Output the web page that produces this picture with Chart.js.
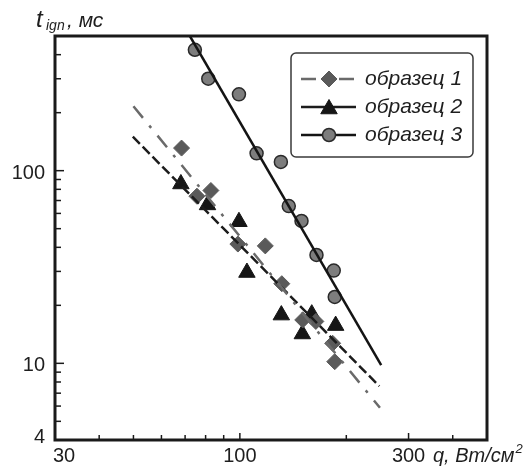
<!DOCTYPE html>
<html>
<head>
<meta charset="utf-8">
<script src="https://cdn.jsdelivr.net/npm/chart.js"></script>
<style>
  html, body { margin: 0; padding: 0; background: #fff; }
  canvas { display: block; }
</style>
</head>
<body>
<canvas id="chart" width="526" height="466"></canvas>
<script>
// axis ticks (log scales), labelled ones are major
const xTicks = [40, 50, 60, 70, 80, 90, 100, 200, 300, 400];
const xLabels = [30, 100, 300];
const yTicks = [5, 6, 7, 8, 9, 10, 20, 30, 40, 50, 60, 70, 80, 90, 100, 200, 300, 400];
const yLabels = [4, 10, 100];

const seriesNames = ["образец 1", "образец 2", "образец 3"];

// measured points: q (W/cm2) and t_ign (ms)
const sample1Q = [68.4, 75.6, 82.8, 98.7, 118, 131.4, 150.6, 164, 183, 185.5];
const sample1T = [131, 73.7, 78.9, 41.6, 40.7, 25.9, 16.8, 16.5, 12.7, 10.2];
const sample2Q = [68.1, 81, 99.4, 104.7, 131, 159.7, 150.2, 186.6];
const sample2T = [85.3, 66.4, 54.3, 29.6, 17.8, 18.0, 14.2, 15.7];
const sample3Q = [74.6, 81.4, 99.4, 111.5, 130.6, 137.5, 149.4, 164.7, 184.3, 185.5];
const sample3T = [424, 300, 249, 123, 111, 65.5, 54.8, 36.5, 30.3, 22.1];

// fitted lines (end points)
const fit1Q = [50, 249];
const fit1T = [216, 5.88];
const fit2Q = [49.8, 248];
const fit2T = [150, 7.61];
const fit3Q = [72.2, 251];
const fit3T = [500, 9.8];

const FONT = '"Liberation Sans", Arial, sans-serif';

function pts(qs, ts) {
  return qs.map((q, i) => ({ x: q, y: ts[i] }));
}

const lineStyles = [
  { color: "#6a6a6a", dash: [15, 10, 3, 10], legendDash: [15, 10, 3, 10] },
  { color: "#1c1c1c", dash: [10, 4], legendDash: [] },
  { color: "#141414", dash: [], legendDash: [] },
];

const datasets = [
  { label: "fit1", data: pts(fit1Q, fit1T), showLine: true, pointRadius: 0,
    borderColor: lineStyles[0].color, borderWidth: 2.5, borderDash: lineStyles[0].dash },
  { label: "fit2", data: pts(fit2Q, fit2T), showLine: true, pointRadius: 0,
    borderColor: lineStyles[1].color, borderWidth: 2.5, borderDash: lineStyles[1].dash },
  { label: "fit3", data: pts(fit3Q, fit3T), showLine: true, pointRadius: 0,
    borderColor: lineStyles[2].color, borderWidth: 2.5, borderDash: lineStyles[2].dash },
  { label: seriesNames[0], data: pts(sample1Q, sample1T), showLine: false,
    pointStyle: "rectRot", pointRadius: 8, backgroundColor: "#5a5a5a",
    borderColor: "#5a5a5a", borderWidth: 1 },
  { label: seriesNames[1], data: pts(sample2Q, sample2T), showLine: false,
    pointStyle: "triangle", pointRadius: 9.5, backgroundColor: "#161616",
    borderColor: "#161616", borderWidth: 1 },
  { label: seriesNames[2], data: pts(sample3Q, sample3T), showLine: false,
    pointStyle: "circle", pointRadius: 6.5, backgroundColor: "#7d7d7d",
    borderColor: "#2a2a2a", borderWidth: 1.5 },
];

function seg(ctx, x1, y1, x2, y2) {
  ctx.beginPath();
  ctx.moveTo(x1, y1);
  ctx.lineTo(x2, y2);
  ctx.stroke();
}

function marker(ctx, ds, x, y) {
  ctx.save();
  ctx.setLineDash([]);
  ctx.fillStyle = ds.backgroundColor;
  ctx.strokeStyle = ds.borderColor;
  ctx.lineWidth = ds.borderWidth;
  Chart.helpers.drawPoint(ctx, {
    pointStyle: ds.pointStyle, radius: ds.pointRadius,
    rotation: 0, borderWidth: ds.borderWidth,
  }, x, y);
  ctx.restore();
}

const decorations = {
  id: "decorations",
  afterDatasetsDraw(chart) {
    const { ctx, chartArea: a, scales } = chart;
    const x = scales.x, y = scales.y;
    ctx.save();
    ctx.strokeStyle = "#1a1a1a";
    ctx.lineWidth = 1.5;

    // inward ticks
    xTicks.forEach((v) => {
      const px = x.getPixelForValue(v);
      const len = xLabels.includes(v) ? 7 : 5;
      seg(ctx, px, a.bottom, px, a.bottom - len);
    });
    yTicks.forEach((v) => {
      const py = y.getPixelForValue(v);
      const len = yLabels.includes(v) ? 9 : 6;
      seg(ctx, a.left, py, a.left + len, py);
    });

    // frame
    ctx.lineWidth = 3;
    ctx.strokeRect(a.left, a.top, a.right - a.left, a.bottom - a.top);

    // tick labels
    ctx.fillStyle = "#1e1e1e";
    ctx.font = "20px " + FONT;
    ctx.textBaseline = "alphabetic";
    ctx.textAlign = "right";
    yLabels.forEach((v) => {
      const py = y.getPixelForValue(v);
      ctx.fillText(String(v), a.left - 10, Math.min(py + 8, a.bottom + 3));
    });
    ctx.textAlign = "center";
    xLabels.forEach((v) => {
      const px = x.getPixelForValue(v);
      ctx.fillText(String(v), Math.max(px, a.left + 9), a.bottom + 22);
    });

    // axis titles
    ctx.textAlign = "left";
    ctx.font = "italic 20px " + FONT;
    ctx.fillText("q, Вт/см", 433, a.bottom + 22);
    const w = ctx.measureText("q, Вт/см").width;
    ctx.font = "italic 13px " + FONT;
    ctx.fillText("2", 433 + w + 1, a.bottom + 13);

    ctx.font = "italic 24px " + FONT;
    ctx.fillText("t", 36, 27);
    ctx.font = "italic 14px " + FONT;
    ctx.fillText("ign", 46, 30);
    ctx.font = "italic 21px " + FONT;
    ctx.fillText(", мс", 67, 27);

    // legend
    const bx = 291, by = 53, bw = 182, bh = 104;
    ctx.lineWidth = 1.5;
    ctx.strokeStyle = "#3a3a3a";
    ctx.fillStyle = "#fff";
    ctx.beginPath();
    ctx.roundRect(bx, by, bw, bh, 5);
    ctx.fill();
    ctx.stroke();

    const rows = [79, 107, 135];
    seriesNames.forEach((name, i) => {
      const ry = rows[i];
      const st = lineStyles[i];
      ctx.save();
      ctx.strokeStyle = st.color;
      ctx.lineWidth = 2.5;
      ctx.setLineDash(st.legendDash);
      seg(ctx, 301, ry, 356, ry);
      ctx.restore();
      marker(ctx, chart.data.datasets[3 + i], 329, i === 1 ? ry + 2 : ry);
      ctx.fillStyle = "#1e1e1e";
      ctx.font = "italic 21px " + FONT;
      ctx.textAlign = "left";
      ctx.fillText(name, 365, ry + 6);
    });

    ctx.restore();
  },
};

new Chart(document.getElementById("chart"), {
  type: "scatter",
  data: { datasets },
  options: {
    responsive: false,
    animation: false,
    layout: { padding: { top: 36, right: 39, left: 0, bottom: 0 } },
    plugins: { legend: { display: false }, tooltip: { enabled: false } },
    scales: {
      x: {
        type: "logarithmic", min: 30, max: 500,
        afterBuildTicks: (s) => { s.ticks = xLabels.map((v) => ({ value: v })); },
        afterFit: (s) => { s.height = 26; },
        ticks: { display: false },
        grid: { display: false },
        border: { display: false },
      },
      y: {
        type: "logarithmic", min: 4, max: 500,
        afterBuildTicks: (s) => { s.ticks = yLabels.map((v) => ({ value: v })); },
        afterFit: (s) => { s.width = 55; },
        ticks: { display: false },
        grid: { display: false },
        border: { display: false },
      },
    },
  },
  plugins: [decorations],
});
</script>
</body>
</html>
